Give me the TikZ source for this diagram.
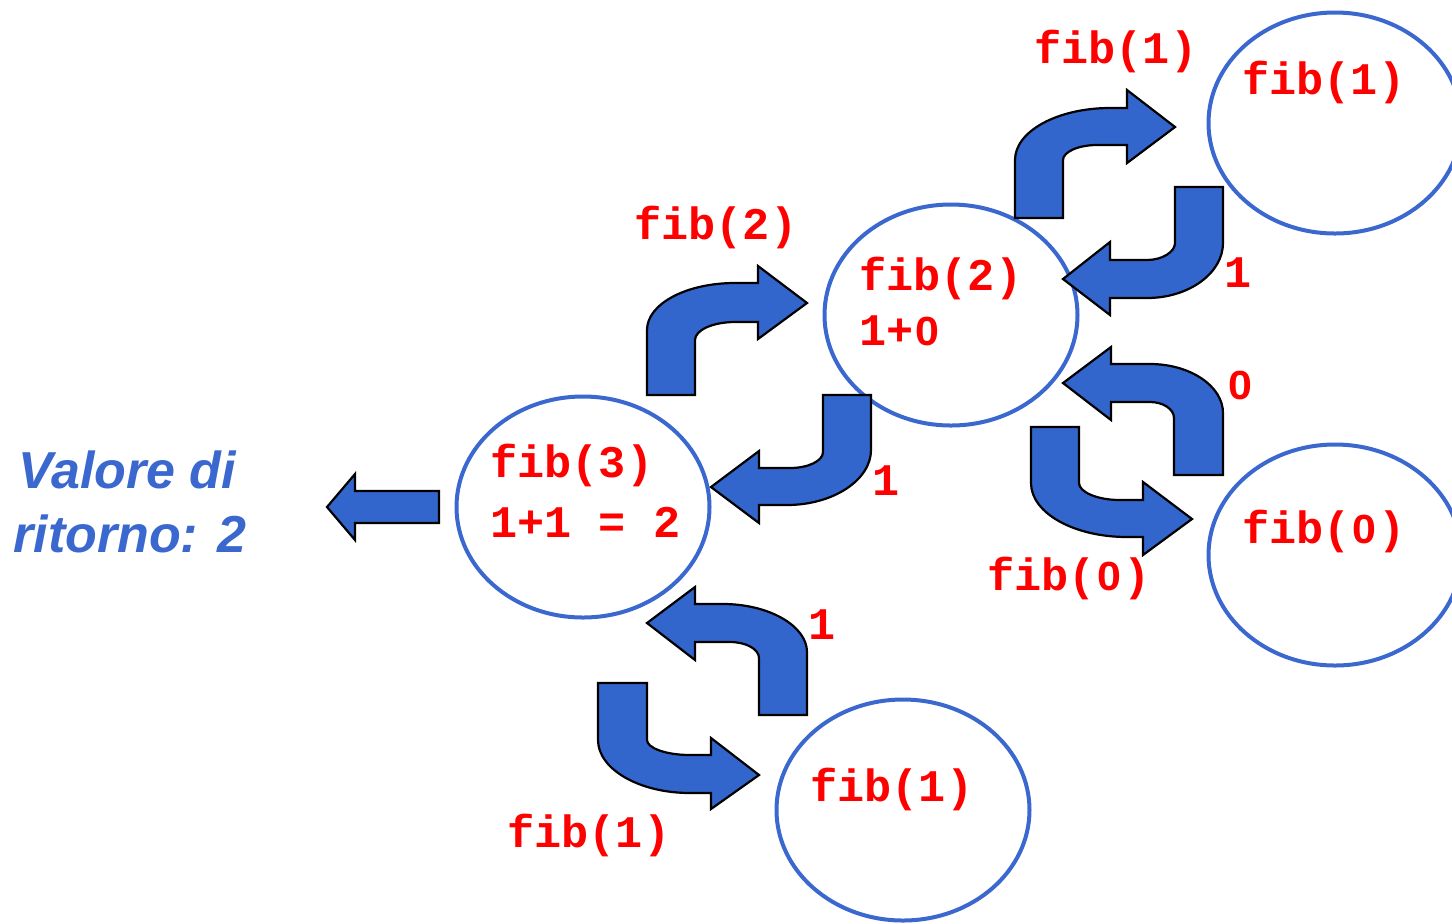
\documentclass[tikz,border=0pt]{standalone}
\usepackage{fontspec}
\usepackage{graphicx}
\setmonofont{Liberation Mono}
\setsansfont{Liberation Sans}
\usetikzlibrary{shapes.geometric}
\definecolor{ablue}{HTML}{3366CC}
\definecolor{eblue}{HTML}{3A68CF}
\newcommand\plainzero{\makebox[0.6em][c]{\scalebox{0.95}[0.9]{\sffamily\bfseries 0}}}
\begin{document}
\begin{tikzpicture}[x=0.5pt,y=-0.5pt,
  circ/.style={ellipse, draw=eblue, line width=2pt, minimum width=126.5pt, minimum height=110.5pt, inner sep=0pt},
  lbl/.style={anchor=base west, inner sep=0pt, text=red, font=\ttfamily\bfseries\fontsize{22.6}{26}\selectfont},
  blockarrow/.style={fill=ablue, draw=black, line width=1.1pt, line join=miter},
  ret/.style={anchor=base west, inner sep=0pt, text=eblue, font=\sffamily\bfseries\itshape\fontsize{26}{30}\selectfont}]
\useasboundingbox (0,0) rectangle (1452,923);
% ellipses
\node[circ] (f3) at (583,507) {};
\node[circ] (f2) at (951,315) {};
\node[circ] (f1a) at (1335,123) {};
\node[circ] (f0) at (1335,555) {};
\node[circ] (f1b) at (903,810) {};
% texts in ellipses
\node[lbl] (t3a) at (490,477) {fib(3)};
\node[lbl] (t3b) at (490,537) {1+1 = 2};
\node[lbl] (t2a) at (859,290) {fib(2)};
\node[lbl] (t2b) at (859,345) {1+\plainzero};
\node[lbl] (t1a) at (1242,94) {fib(1)};
\node[lbl] (t0) at (1242,543) {fib(\plainzero)};
\node[lbl] (t1b) at (810,801) {fib(1)};
% call labels
\node[lbl] (c2) at (634,239) {fib(2)};
\node[lbl] (c1a) at (1034,63) {fib(1)};
\node[lbl] (c0) at (987,590) {fib(\plainzero)};
\node[lbl] (c1b) at (507,847) {fib(1)};
% return labels
\node[lbl] (r1) at (872,495) {1};
\node[lbl] (r1a) at (1224,287) {1};
\node[lbl] (r0) at (1226,399) {\plainzero};
\node[lbl] (r1b) at (808,639) {1};
% result text
\node[ret] (v1) at (18,488) {Valore di};
\node[ret] (v2) at (13,552) {ritorno: 2};
% A: fib3 -> fib2
\draw[blockarrow] (647,395) -- (647,330) .. controls (647,304) and (686,283) .. (735,283) -- (758,283) -- (758,266) -- (807,303) -- (758,339) -- (758,322) -- (735,322) .. controls (713,322) and (695,330) .. (695,340) -- (695,395) -- cycle;
% B: fib2 -> fib3 (return 1)
\draw[blockarrow] (823,395) -- (871,395) -- (871,450) .. controls (871,480) and (833,505) .. (787,505) -- (759,505) -- (759,523) -- (711,487) -- (759,451) -- (759,468) -- (790,468) .. controls (808,468) and (823,461) .. (823,452) -- cycle;
% C: fib1 -> fib3 (return 1)
\draw[blockarrow] (759,715) -- (807,715) -- (807,652) .. controls (807,626) and (769,604) .. (723,604) -- (695,604) -- (695,587) -- (647,623) -- (695,660) -- (695,642) -- (730,642) .. controls (746,642) and (759,649) .. (759,658) -- cycle;
% D: fib3 -> fib1
\draw[blockarrow] (598,683) -- (647,683) -- (647,740) .. controls (647,748) and (666,755) .. (690,755) -- (711,755) -- (711,738) -- (759,775) -- (711,809) -- (711,793) -- (690,793) .. controls (639,793) and (598,769) .. (598,740) -- cycle;
% E: fib2 -> fib1
\draw[blockarrow] (1015,218) -- (1015,160) .. controls (1015,131) and (1058,108) .. (1110,108) -- (1127,108) -- (1127,90) -- (1175,127) -- (1127,163) -- (1127,145) -- (1097,145) .. controls (1078,145) and (1063,152) .. (1063,160) -- (1063,218) -- cycle;
% F: fib1 -> fib2 (return 1)
\draw[blockarrow] (1175,187) -- (1223,187) -- (1223,243) .. controls (1223,273) and (1189,298) .. (1147,298) -- (1110,298) -- (1110,315) -- (1063,279) -- (1110,242) -- (1110,260) -- (1147,260) .. controls (1162,260) and (1175,252) .. (1175,243) -- cycle;
% G: fib0 -> fib2 (return 0)
\draw[blockarrow] (1174,475) -- (1223,475) -- (1223,413) .. controls (1223,386) and (1190,364) .. (1150,364) -- (1111,364) -- (1111,347) -- (1063,383) -- (1111,420) -- (1111,402) -- (1150,402) .. controls (1163,402) and (1174,409) .. (1174,418) -- cycle;
% H: fib2 -> fib0
\draw[blockarrow] (1031,427) -- (1079,427) -- (1079,483) .. controls (1079,492) and (1097,500) .. (1120,500) -- (1143,500) -- (1143,482) -- (1192,519) -- (1143,555) -- (1143,537) -- (1127,537) .. controls (1074,537) and (1031,513) .. (1031,483) -- cycle;
% straight result arrow
\draw[blockarrow] (439,491) -- (355,491) -- (355,474) -- (327,507) -- (355,540) -- (355,523) -- (439,523) -- cycle;
\end{tikzpicture}
\end{document}
